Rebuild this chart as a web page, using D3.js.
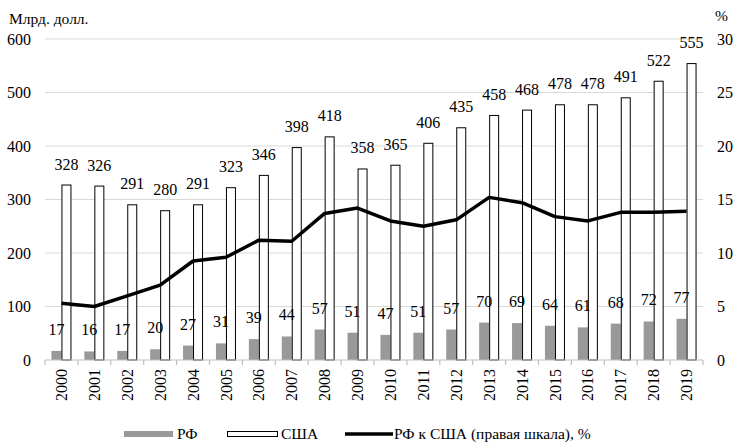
<!DOCTYPE html>
<html>
<head>
<meta charset="utf-8">
<script src="https://cdn.jsdelivr.net/npm/d3@7"></script>
</head>
<body style="margin:0">
<script>
/* CONSTANTS AND GLOBALS */
const width = 736,
  height = 445,
  margin = { top: 39, bottom: 85, left: 45, right: 33 }
const FONT = "'Liberation Serif'"

/* DATA */
const years = ["2000", "2001", "2002", "2003", "2004", "2005", "2006", "2007", "2008", "2009",
  "2010", "2011", "2012", "2013", "2014", "2015", "2016", "2017", "2018", "2019"]
const rf = [17, 16, 17, 20, 27, 31, 39, 44, 57, 51, 47, 51, 57, 70, 69, 64, 61, 68, 72, 77]
const usa = [328, 326, 291, 280, 291, 323, 346, 398, 418, 358, 365, 406, 435, 458, 468, 478, 478, 491, 522, 555]
// РФ к США, % (правая шкала)
const share = [5.3, 5.0, 6.0, 7.0, 9.25, 9.6, 11.2, 11.1, 13.7, 14.2, 13.0, 12.5, 13.1, 15.2, 14.7, 13.4, 13.0, 13.8, 13.8, 13.9]
const leftTicks = [0, 100, 200, 300, 400, 500, 600]
const rightTicks = [0, 5, 10, 15, 20, 25, 30]

const data = years.map((y, i) => ({ year: y, rf: rf[i], usa: usa[i], share: share[i] }))

const svg = d3.select("body")
  .append("svg")
  .attr("width", width)
  .attr("height", height)

const xScale = d3.scaleBand()
  .domain(years)
  .range([margin.left, width - margin.right])

const yScale = d3.scaleLinear()
  .domain([0, 600])
  .range([height - margin.bottom, margin.top])

const y2Scale = d3.scaleLinear()
  .domain([0, 30])
  .range([height - margin.bottom, margin.top])

const barW = 10
const cx = d => xScale(d.year) + xScale.bandwidth() / 2

// gridlines
svg.append("g")
  .selectAll("line")
  .data(leftTicks.slice(1))
  .join("line")
  .attr("x1", margin.left)
  .attr("x2", width - margin.right)
  .attr("y1", d => yScale(d))
  .attr("y2", d => yScale(d))
  .attr("stroke", "#d9d9d9")
  .attr("stroke-width", 1)

// left axis labels
svg.append("g")
  .selectAll("text")
  .data(leftTicks)
  .join("text")
  .attr("x", 31)
  .attr("y", d => yScale(d))
  .attr("dy", "0.35em")
  .attr("text-anchor", "end")
  .style("font-family", FONT)
  .attr("font-size", 16)
  .text(d => d)

// right axis labels
svg.append("g")
  .selectAll("text")
  .data(rightTicks)
  .join("text")
  .attr("x", 717)
  .attr("y", d => y2Scale(d))
  .attr("dy", "0.35em")
  .style("font-family", FONT)
  .attr("font-size", 16)
  .text(d => d)

svg.append("text")
  .attr("x", 9).attr("y", 24)
  .style("font-family", FONT)
  .attr("font-size", 15.5)
  .text("Млрд. долл.")

svg.append("text")
  .attr("x", 715).attr("y", 21)
  .style("font-family", FONT)
  .attr("font-size", 15.5)
  .text("%")

// bars РФ
svg.append("g")
  .selectAll("rect")
  .data(data)
  .join("rect")
  .attr("x", d => cx(d) - barW)
  .attr("y", d => yScale(d.rf))
  .attr("width", barW)
  .attr("height", d => yScale(0) - yScale(d.rf))
  .attr("fill", "#999999")

// bars США
svg.append("g")
  .selectAll("rect")
  .data(data)
  .join("rect")
  .attr("x", d => cx(d) + 0.5)
  .attr("y", d => yScale(d.usa) + 0.5)
  .attr("width", barW - 1)
  .attr("height", d => yScale(0) - yScale(d.usa) - 0.5)
  .attr("fill", "#fff")
  .attr("stroke", "#000")
  .attr("stroke-width", 1)

// x axis
const xAxis = svg.append("g")
xAxis.append("line")
  .attr("x1", margin.left).attr("x2", width - margin.right)
  .attr("y1", yScale(0)).attr("y2", yScale(0))
  .attr("stroke", "#bfbfbf")
  .attr("stroke-width", 1.2)
xAxis.selectAll("line.tick")
  .data(years.concat(["end"]))
  .join("line")
  .attr("class", "tick")
  .attr("x1", (d, i) => margin.left + i * xScale.bandwidth())
  .attr("x2", (d, i) => margin.left + i * xScale.bandwidth())
  .attr("y1", yScale(0))
  .attr("y2", yScale(0) + 5)
  .attr("stroke", "#bfbfbf")
  .attr("stroke-width", 1.2)
xAxis.selectAll("text")
  .data(years)
  .join("text")
  .attr("transform", d => `translate(${xScale(d) + xScale.bandwidth() / 2},${yScale(0) + 9}) rotate(-90)`)
  .attr("dy", "0.35em")
  .attr("text-anchor", "end")
  .style("font-family", FONT)
  .attr("font-size", 16)
  .text(d => d)

// share line
const line = d3.line()
  .x(d => cx(d))
  .y(d => y2Scale(d.share))

svg.append("path")
  .datum(data)
  .attr("d", line)
  .attr("fill", "none")
  .attr("stroke", "#000")
  .attr("stroke-width", 3.5)
  .attr("stroke-linejoin", "round")

// data labels
svg.append("g")
  .selectAll("text")
  .data(data)
  .join("text")
  .attr("x", d => cx(d) - barW / 2)
  .attr("y", d => yScale(d.rf) - 16)
  .attr("text-anchor", "middle")
  .style("font-family", FONT)
  .attr("font-size", 16)
  .text(d => d.rf)

svg.append("g")
  .selectAll("text")
  .data(data)
  .join("text")
  .attr("x", d => cx(d) + barW / 2)
  .attr("y", d => yScale(d.usa) - 15)
  .attr("text-anchor", "middle")
  .style("font-family", FONT)
  .attr("font-size", 16)
  .text(d => d.usa)

// legend
const lg = svg.append("g")
lg.append("rect").attr("x", 124).attr("y", 431).attr("width", 49).attr("height", 6).attr("fill", "#999999")
lg.append("text").attr("x", 177).attr("y", 439).style("font-family", FONT).attr("font-size", 15.5).text("РФ")
lg.append("rect").attr("x", 227.5).attr("y", 431.5).attr("width", 50).attr("height", 5).attr("fill", "#fff").attr("stroke", "#000")
lg.append("text").attr("x", 281).attr("y", 439).style("font-family", FONT).attr("font-size", 15.5).text("США")
lg.append("line").attr("x1", 345).attr("x2", 393).attr("y1", 434).attr("y2", 434).attr("stroke", "#000").attr("stroke-width", 3.5)
lg.append("text").attr("x", 394).attr("y", 439).style("font-family", FONT).attr("font-size", 15.5).text("РФ к США (правая шкала), %")
</script>
</body>
</html>
